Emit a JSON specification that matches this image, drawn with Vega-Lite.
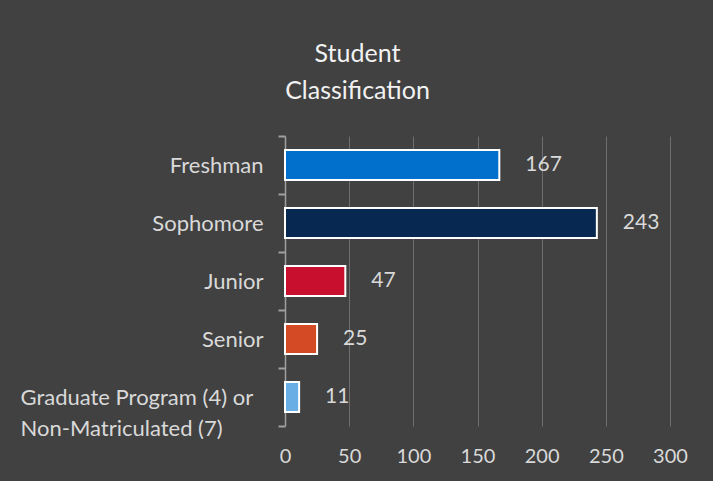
{
  "$schema": "https://vega.github.io/schema/vega-lite/v6.json",
  "width": 385,
  "height": 290,
  "autosize": "none",
  "padding": {"left": 285, "top": 136, "right": 43, "bottom": 55},
  "background": "#414141",
  "title": {
    "text": ["Student", "Classification"],
    "font": "Lato",
    "fontSize": 25,
    "fontWeight": "normal",
    "color": "#f2f2f2",
    "lineHeight": 37,
    "anchor": "middle",
    "dx": -120,
    "offset": 21
  },
  "data": {
    "values": [
      {"category": "Freshman", "count": 167, "color": "#0070cc"},
      {"category": "Sophomore", "count": 243, "color": "#062851"},
      {"category": "Junior", "count": 47, "color": "#c8102e"},
      {"category": "Senior", "count": 25, "color": "#d34a24"},
      {"category": "Graduate Program (4) or Non-Matriculated (7)", "count": 11, "color": "#6aaee6"}
    ]
  },
  "encoding": {
    "y": {
      "field": "category",
      "type": "nominal",
      "sort": null,
      "scale": {"paddingInner": 0, "paddingOuter": 0},
      "axis": {
        "title": null,
        "labelExpr": "split(replace(datum.label, ' or ', ' or|'), '|')",
        "labelFont": "Lato",
        "labelFontSize": 22,
        "labelColor": "#d9d9d9",
        "labelAlign": {"condition": {"test": "length(datum.label) > 20", "value": "left"}, "value": "right"},
        "labelPadding": {"condition": {"test": "length(datum.label) > 20", "value": 258}, "value": 15},
        "labelLimit": 400,
        "labelLineHeight": 31,
        "domainColor": "#a0a0a0",
        "domainWidth": 1.5,
        "tickColor": "#a0a0a0",
        "tickWidth": 2,
        "tickSize": 7,
        "tickBand": "extent",
        "grid": false
      }
    },
    "x": {
      "field": "count",
      "type": "quantitative",
      "scale": {"domain": [0, 300]},
      "axis": {
        "title": null,
        "values": [0, 50, 100, 150, 200, 250, 300],
        "labelFont": "Lato",
        "labelFontSize": 20,
        "labelColor": "#d9d9d9",
        "labelPadding": 20,
        "labelFlush": false,
        "domain": false,
        "ticks": false,
        "grid": true,
        "gridColor": "#6e6e6e",
        "gridWidth": 1
      }
    }
  },
  "layer": [
    {
      "mark": {"type": "bar", "height": {"band": 0.52}, "stroke": "#ffffff", "strokeWidth": 2},
      "encoding": {
        "color": {"field": "color", "type": "nominal", "scale": null}
      }
    },
    {
      "mark": {"type": "text", "align": "left", "baseline": "middle", "dx": 26, "font": "Lato", "fontSize": 21, "color": "#d9d9d9"},
      "encoding": {
        "text": {"field": "count", "type": "quantitative"}
      }
    }
  ],
  "config": {
    "view": {"stroke": null}
  }
}
